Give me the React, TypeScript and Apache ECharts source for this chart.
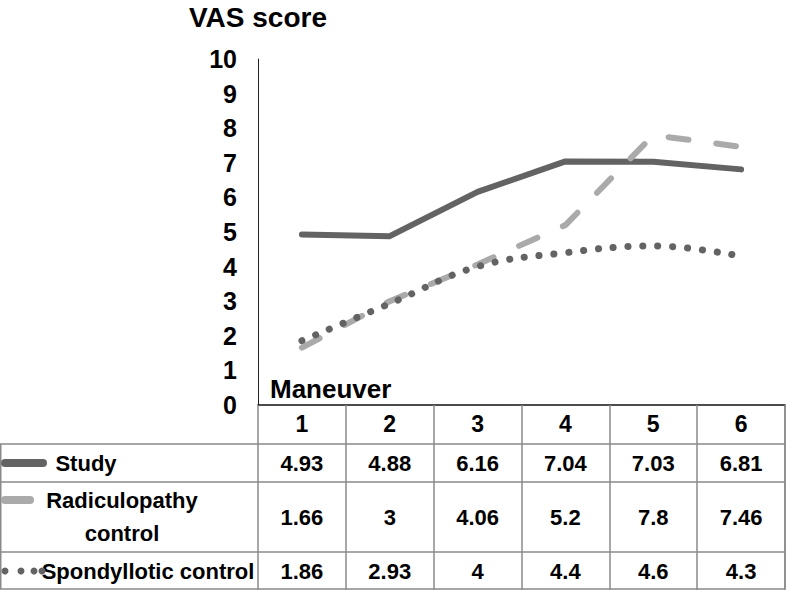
import React, { useEffect, useRef } from "react";
import * as echarts from "echarts";

const maneuvers = ["1", "2", "3", "4", "5", "6"];
const studyValues = [4.93, 4.88, 6.16, 7.04, 7.03, 6.81];
const radiculopathyValues = [1.66, 3, 4.06, 5.2, 7.8, 7.46];
const spondylloticValues = [1.86, 2.93, 4, 4.4, 4.6, 4.3];
const seriesNames = ["Study", "Radiculopathy\ncontrol", "Spondyllotic control"];
const yTicks = { min: 0, max: 10, interval: 1 };

const FONT = "'Liberation Sans', Arial, Helvetica, sans-serif";
const DARK = "#636363";
const LIGHT = "#aaaaaa";
const BORDER = "#8a8a8a";

export default function App() {
  const ref = useRef<HTMLDivElement>(null);

  useEffect(() => {
    if (!ref.current) return;
    const chart = echarts.init(ref.current, undefined, { renderer: "svg" });

    const gridTop = 59;
    const axisY = 405;
    const rowBounds = [axisY, 444, 482, 552, 589];
    const rowCenters = [424, 463, 517, 571];
    const W = 786;

    const valueAxis = (vals: number[], center: number) => ({
      type: "category",
      gridIndex: 0,
      position: "bottom",
      data: vals.map((v) => String(v)),
      axisLine: { show: false },
      axisTick: { show: false },
      splitLine: { show: false },
      axisLabel: {
        interval: 0,
        margin: center - axisY,
        verticalAlign: "middle",
        fontSize: 22,
        fontWeight: "bold",
        color: "#000",
        fontFamily: FONT,
      },
    });

    const textStyle = { fontSize: 22, fontWeight: "bold", fill: "#000", fontFamily: FONT };

    const hLines = rowBounds.slice(1).map((y) => ({
      type: "line",
      shape: { x1: 0, y1: y, x2: W - 1, y2: y },
      style: { stroke: BORDER, lineWidth: 1.5 },
      silent: true,
    }));

    chart.setOption({
      animation: false,
      grid: { left: 258, right: 1, top: gridTop, bottom: 590 - axisY },
      xAxis: [
        {
          type: "category",
          data: maneuvers,
          boundaryGap: true,
          axisLine: { show: true, lineStyle: { color: "#111", width: 1.5 } },
          axisTick: {
            show: true,
            interval: 0,
            inside: false,
            length: 590 - axisY,
            lineStyle: { color: BORDER, width: 1.5 },
          },
          splitLine: { show: false },
          axisLabel: {
            interval: 0,
            margin: rowCenters[0] - axisY,
            verticalAlign: "middle",
            fontSize: 23,
            fontWeight: "bold",
            color: "#000",
            fontFamily: FONT,
          },
        },
        valueAxis(studyValues, rowCenters[1]),
        valueAxis(radiculopathyValues, rowCenters[2]),
        valueAxis(spondylloticValues, rowCenters[3]),
      ],
      yAxis: {
        type: "value",
        min: yTicks.min,
        max: yTicks.max,
        interval: yTicks.interval,
        name: "VAS score",
        nameLocation: "end",
        nameGap: 42,
        nameTextStyle: {
          fontSize: 28,
          fontWeight: "bold",
          color: "#000",
          fontFamily: FONT,
          align: "center",
          verticalAlign: "middle",
        },
        axisLine: { show: true, lineStyle: { color: "#222", width: 1 } },
        axisTick: { show: false },
        splitLine: { show: false },
        axisLabel: {
          margin: 21,
          fontSize: 25,
          fontWeight: "bold",
          color: "#000",
          fontFamily: FONT,
        },
      },
      series: [
        {
          name: "Study",
          type: "line",
          data: studyValues,
          symbol: "none",
          lineStyle: { color: DARK, width: 6, cap: "round", join: "round" },
        },
        {
          name: "Radiculopathy control",
          type: "line",
          data: radiculopathyValues,
          symbol: "none",
          lineStyle: { color: LIGHT, width: 6, type: [20, 28], cap: "round", join: "round" },
        },
        {
          name: "Spondyllotic control",
          type: "line",
          data: spondylloticValues,
          symbol: "none",
          smooth: 0.4,
          lineStyle: { color: DARK, width: 7, type: [0.1, 14.8], cap: "round" },
        },
      ],
      graphic: [
        ...hLines,
        {
          type: "line",
          shape: { x1: 0.75, y1: rowBounds[1], x2: 0.75, y2: rowBounds[4] },
          style: { stroke: BORDER, lineWidth: 1.5 },
          silent: true,
        },
        {
          type: "line",
          shape: { x1: W - 1, y1: axisY, x2: W - 1, y2: rowBounds[4] },
          style: { stroke: BORDER, lineWidth: 1.5 },
          silent: true,
        },
        {
          type: "text",
          x: 270,
          y: 389,
          style: { ...textStyle, fontSize: 26, text: "Maneuver", verticalAlign: "middle", align: "left" },
        },
        {
          type: "text",
          x: 86,
          y: rowCenters[1],
          style: { ...textStyle, text: seriesNames[0], align: "center", verticalAlign: "middle" },
        },
        {
          type: "text",
          x: 122,
          y: rowCenters[2],
          style: {
            ...textStyle,
            text: seriesNames[1],
            align: "center",
            verticalAlign: "middle",
            lineHeight: 33,
          },
        },
        {
          type: "text",
          x: 148,
          y: rowCenters[3],
          style: { ...textStyle, text: seriesNames[2], align: "center", verticalAlign: "middle" },
        },
        {
          type: "line",
          shape: { x1: 5, y1: rowCenters[1], x2: 43, y2: rowCenters[1] },
          style: { stroke: DARK, lineWidth: 8, lineCap: "round" },
          silent: true,
        },
        {
          type: "line",
          shape: { x1: 5, y1: 500, x2: 30, y2: 500 },
          style: { stroke: LIGHT, lineWidth: 8, lineCap: "round" },
          silent: true,
        },
        ...[5, 21, 34, 42].map((cx) => ({
          type: "circle",
          shape: { cx, cy: rowCenters[3], r: 3.5 },
          style: { fill: DARK },
          silent: true,
        })),
      ],
    });

    return () => chart.dispose();
  }, []);

  return (
    <div
      ref={ref}
      style={{ position: "absolute", left: 0, top: 0, width: 786, height: 590, background: "#fff" }}
    />
  );
}
